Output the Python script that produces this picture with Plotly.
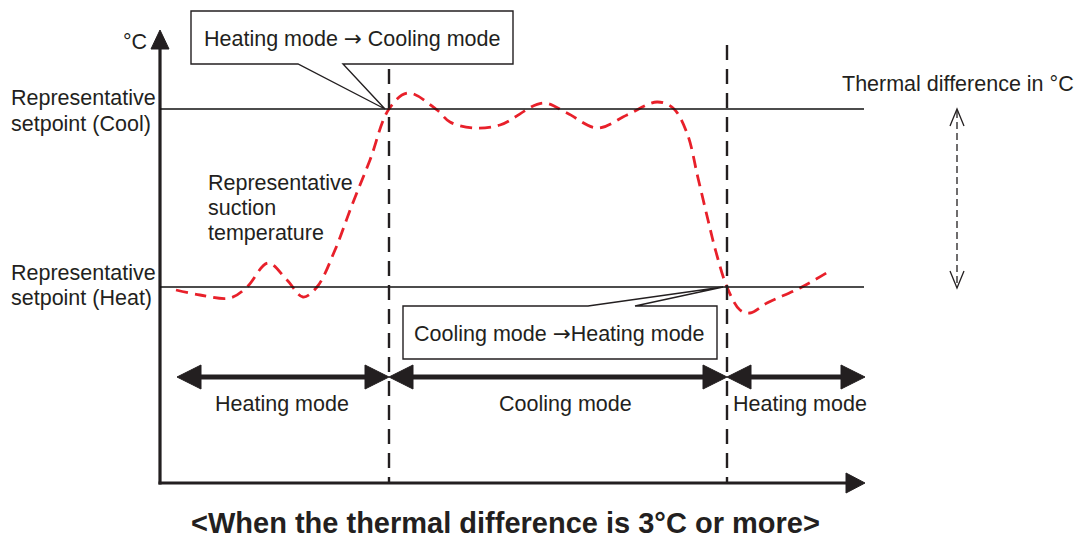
import plotly.graph_objects as go

# Representative suction temperature trace (time position, temperature position)
suction_time = [176, 200, 230, 247, 268, 287, 303, 317, 335, 352, 370, 389,
                408, 437, 450, 473, 500, 543, 567, 597, 627, 657, 673, 687,
                698, 708, 716, 727, 740, 750, 767, 800, 828]
suction_temp = [290, 295, 298, 287, 263, 280, 297, 287, 250, 205, 160, 109,
                93, 110, 122, 128, 125, 103, 113, 128, 115, 102, 108, 133,
                178, 220, 252, 287, 310, 313, 303, 288, 272]

# Setpoint levels and mode switch times
setpoint_cool = 109
setpoint_heat = 287
switch_times = [389, 727]

# Mode spans along the time axis
mode_names = ["Heating mode", "Cooling mode", "Heating mode"]
mode_starts = [177, 389, 727]
mode_ends = [389, 727, 865]
mode_label_x = [282, 565, 800]

INK = "#231f20"
RED = "#e8202a"
FONT = "Liberation Sans, Arial, sans-serif"
SIZE = 21.5
ARROW = '<span style="font-family:DejaVu Sans">→</span>'

fig = go.Figure()

fig.add_trace(go.Scatter(
    x=suction_time, y=suction_temp, mode="lines",
    line=dict(color=RED, width=2.8, dash="12px,7px", shape="spline", smoothing=1.0),
    hoverinfo="skip", showlegend=False,
))

shapes = []

# Axes with filled arrowheads
x0_axis, y0_axis = 160, 483
shapes.append(dict(type="line", x0=x0_axis, y0=y0_axis + 1.5, x1=x0_axis, y1=46,
                   line=dict(color=INK, width=3.2)))
shapes.append(dict(type="path", path=f"M {x0_axis},30 L {x0_axis-9},49 L {x0_axis+9},49 Z",
                   fillcolor=INK, line=dict(color=INK, width=1)))
shapes.append(dict(type="line", x0=x0_axis - 1.5, y0=y0_axis, x1=850, y1=y0_axis,
                   line=dict(color=INK, width=3.2)))
shapes.append(dict(type="path", path=f"M 865,{y0_axis} L 846,{y0_axis-10} L 846,{y0_axis+10} Z",
                   fillcolor=INK, line=dict(color=INK, width=1)))

# Setpoint lines
for lvl in (setpoint_cool, setpoint_heat):
    shapes.append(dict(type="line", x0=x0_axis, y0=lvl, x1=864, y1=lvl,
                       line=dict(color="#111111", width=1.3)))

# Mode switch markers
for t in switch_times:
    shapes.append(dict(type="line", x0=t, y0=45, x1=t, y1=y0_axis,
                       line=dict(color=INK, width=2.4, dash="15px,9px")))

# Mode span double arrows
arrow_y = 377
for s, e in zip(mode_starts, mode_ends):
    shapes.append(dict(type="line", x0=s + 20, y0=arrow_y, x1=e - 20, y1=arrow_y,
                       line=dict(color=INK, width=5)))
    shapes.append(dict(type="path",
                       path=f"M {s},{arrow_y} L {s+24},{arrow_y-12} L {s+24},{arrow_y+12} Z",
                       fillcolor=INK, line=dict(color=INK, width=1)))
    shapes.append(dict(type="path",
                       path=f"M {e},{arrow_y} L {e-24},{arrow_y-12} L {e-24},{arrow_y+12} Z",
                       fillcolor=INK, line=dict(color=INK, width=1)))

# Callout: heating -> cooling
shapes.append(dict(type="path",
                   path="M 191,11 L 513,11 L 513,64 L 343,64 L 385,109 L 298,64 L 191,64 Z",
                   fillcolor="white", line=dict(color=INK, width=1.4)))
# Callout: cooling -> heating
shapes.append(dict(type="path",
                   path="M 403,306 L 588,306 L 723,287 L 635,306 L 717,306 L 717,359 L 403,359 Z",
                   fillcolor="white", line=dict(color=INK, width=1.4)))

# Thermal difference span (dashed, open chevrons)
td_x = 957
shapes.append(dict(type="line", x0=td_x, y0=111, x1=td_x, y1=286,
                   line=dict(color=INK, width=1.3, dash="7px,4px")))
shapes.append(dict(type="path",
                   path=f"M {td_x-7},126 L {td_x},109 L {td_x+7},126",
                   line=dict(color=INK, width=1.3)))
shapes.append(dict(type="path",
                   path=f"M {td_x-7},271 L {td_x},288 L {td_x+7},271",
                   line=dict(color=INK, width=1.3)))

annotations = []


def label(text, x, y, xanchor="left", size=SIZE):
    annotations.append(dict(
        text=text, x=x, y=y, xref="x", yref="y",
        xanchor=xanchor, yanchor="middle", showarrow=False, align="left",
        font=dict(family=FONT, size=size, color=INK),
    ))


label("°C", 121, 42)
label("Representative", 9, 98)
label("setpoint (Cool)", 9, 124)
label("Representative", 9, 273)
label("setpoint (Heat)", 9, 298)
label("Representative", 206, 183)
label("suction", 206, 208)
label("temperature", 206, 233)
label(f"Heating mode {ARROW} Cooling mode", 352, 38, xanchor="center")
label(f"Cooling mode {ARROW}Heating mode", 559, 333, xanchor="center")
label("Thermal difference in °C", 1076, 84, xanchor="right")
for lx, name in zip(mode_label_x, mode_names):
    label(name, lx, 404, xanchor="center")

annotations.append(dict(
    text="<b>&lt;When the thermal difference is 3°C or more&gt;</b>",
    x=505, y=523, xref="x", yref="y", xanchor="center", yanchor="middle",
    showarrow=False,
    font=dict(family="Liberation Sans, Arial, sans-serif", size=29, color=INK),
))

fig.update_layout(
    width=1084, height=541,
    margin=dict(l=0, r=0, t=0, b=0),
    paper_bgcolor="white", plot_bgcolor="white",
    xaxis=dict(range=[0, 1084], visible=False, fixedrange=True),
    yaxis=dict(range=[541, 0], visible=False, fixedrange=True),
    shapes=shapes, annotations=annotations,
    showlegend=False,
)

fig.write_html("out.html")
